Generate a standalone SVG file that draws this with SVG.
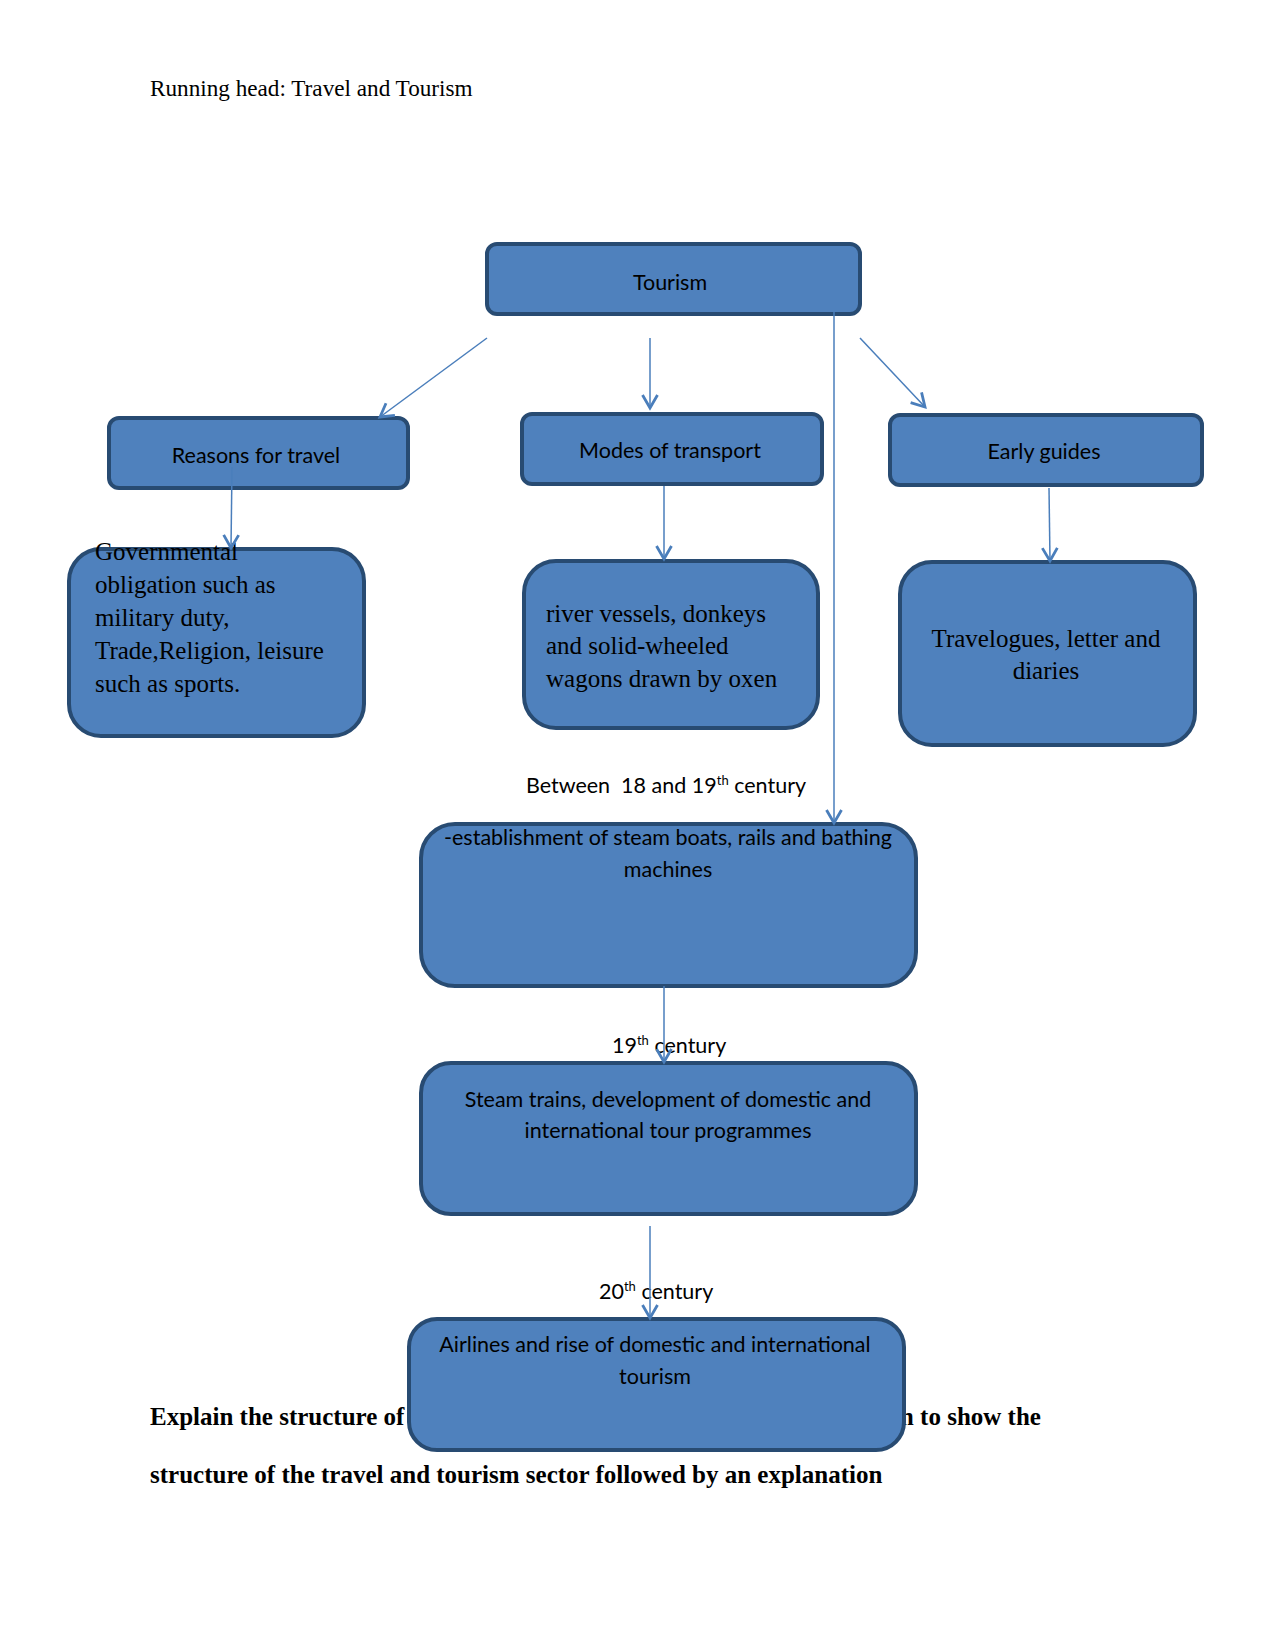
<svg xmlns="http://www.w3.org/2000/svg" width="1275" height="1650" viewBox="0 0 1275 1650">
<style>
.bg{fill:#ffffff}
.box{fill:#4F81BD;stroke:#284B72;stroke-width:4}
.sans{font-family:Lato,"Liberation Sans",sans-serif;font-size:21.5px;fill:#000}
.serif{font-family:"Liberation Serif","Times New Roman",serif;font-size:25px;fill:#000}
.head{font-family:"Liberation Serif","Times New Roman",serif;font-size:23.2px;fill:#000}
.bold{font-family:"Liberation Serif","Times New Roman",serif;font-size:25px;font-weight:bold;fill:#000}
.c{text-anchor:middle}
.conn{stroke:#4A7EBB;stroke-width:1.5;fill:none}
</style>
<defs>
<marker id="arr" markerUnits="userSpaceOnUse" markerWidth="20" markerHeight="20" viewBox="0 0 20 20" refX="16" refY="10" orient="auto">
<path d="M3,2.5 L16,10 L3,17.5" fill="none" stroke="#4A7EBB" stroke-width="2.8"/>
</marker>
</defs>
<rect class="bg" x="0" y="0" width="1275" height="1650"/>
<text class="head" x="150" y="96">Running head: Travel and Tourism</text>
<text class="bold" x="150" y="1425">Explain the structure of</text>
<text class="bold" x="893" y="1425">m to show the</text>
<text class="bold" x="150" y="1483">structure of the travel and tourism sector followed by an explanation</text>

<g id="node-tourism">
<rect class="box" x="487" y="244" width="373" height="70" rx="10"/>
<text class="sans c" x="670" y="290">Tourism</text>
</g>
<g id="node-reasons">
<rect class="box" x="109" y="418" width="299" height="70" rx="10"/>
<text class="sans c" x="256" y="463">Reasons for travel</text>
</g>
<g id="node-modes">
<rect class="box" x="522" y="414" width="300" height="70" rx="10"/>
<text class="sans c" x="670" y="458">Modes of transport</text>
</g>
<g id="node-guides">
<rect class="box" x="890" y="415" width="312" height="70" rx="10"/>
<text class="sans c" x="1044" y="459">Early guides</text>
</g>
<g id="node-governmental">
<rect class="box" x="69" y="549" width="295" height="187" rx="32"/>
<text class="serif" x="95" y="560">Governmental</text>
<text class="serif" x="95" y="593">obligation such as</text>
<text class="serif" x="95" y="626">military duty,</text>
<text class="serif" x="95" y="659">Trade,Religion, leisure</text>
<text class="serif" x="95" y="692">such as sports.</text>
</g>
<g id="node-river">
<rect class="box" x="524" y="561" width="294" height="167" rx="32"/>
<text class="serif" x="546" y="622">river vessels, donkeys</text>
<text class="serif" x="546" y="654">and solid-wheeled</text>
<text class="serif" x="546" y="687">wagons drawn by oxen</text>
</g>
<g id="node-travelogues">
<rect class="box" x="900" y="562" width="295" height="183" rx="32"/>
<text class="serif c" x="1046" y="647">Travelogues, letter and</text>
<text class="serif c" x="1046" y="679">diaries</text>
</g>
<g id="node-steamboats">
<rect class="box" x="421" y="824" width="495" height="162" rx="34"/>
<text class="sans c" x="668" y="845">-establishment of steam boats, rails and bathing</text>
<text class="sans c" x="668" y="877">machines</text>
</g>
<g id="node-steamtrains">
<rect class="box" x="421" y="1063" width="495" height="151" rx="30"/>
<text class="sans c" x="668" y="1107">Steam trains, development of domestic and</text>
<text class="sans c" x="668" y="1138">international tour programmes</text>
</g>
<g id="node-airlines">
<rect class="box" x="409" y="1319" width="495" height="131" rx="28"/>
<text class="sans c" x="655" y="1352">Airlines and rise of domestic and international</text>
<text class="sans c" x="655" y="1384">tourism</text>
</g>

<g id="labels">
<text class="sans c" x="666" y="793" style="white-space:pre">Between  18 and 19<tspan font-size="13" dy="-8">th</tspan><tspan dy="8"> century</tspan></text>
<text class="sans" x="612" y="1053">19<tspan font-size="13" dy="-8">th</tspan><tspan dy="8"> century</tspan></text>
<text class="sans" x="599" y="1299">20<tspan font-size="13" dy="-8">th</tspan><tspan dy="8"> century</tspan></text>
</g>

<g id="connectors">
<line class="conn" x1="487" y1="338" x2="380" y2="417" marker-end="url(#arr)"/>
<line class="conn" x1="650" y1="338" x2="650" y2="408" marker-end="url(#arr)"/>
<line class="conn" x1="860" y1="338" x2="925" y2="407" marker-end="url(#arr)"/>
<line class="conn" x1="834" y1="312" x2="834" y2="823" marker-end="url(#arr)"/>
<line class="conn" x1="232" y1="467" x2="231" y2="548" marker-end="url(#arr)"/>
<line class="conn" x1="664" y1="486" x2="664" y2="559" marker-end="url(#arr)"/>
<line class="conn" x1="1049" y1="488" x2="1050" y2="561" marker-end="url(#arr)"/>
<line class="conn" x1="664" y1="986" x2="664" y2="1062" marker-end="url(#arr)"/>
<line class="conn" x1="650" y1="1226" x2="650" y2="1318" marker-end="url(#arr)"/>
</g>
</svg>
